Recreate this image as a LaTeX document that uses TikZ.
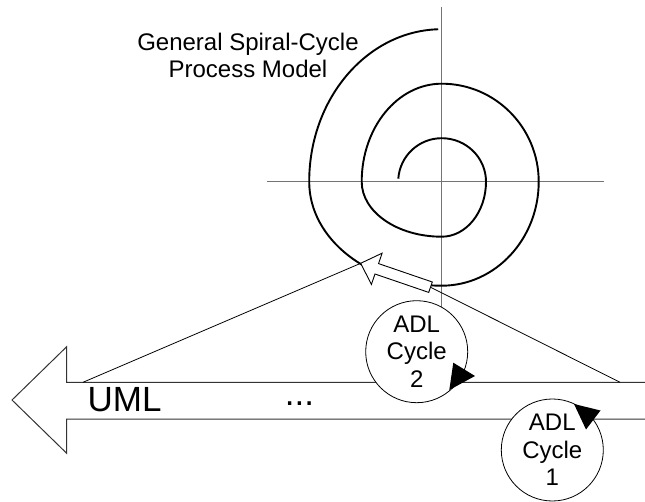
\documentclass[tikz,border=0pt]{standalone}
\usepackage{fontspec}
\setmainfont{Liberation Sans}
\usetikzlibrary{calc}
\tikzset{
  axisline/.style={draw=black!55, line width=1.4pt},
  spiralline/.style={draw=black, line width=1.9pt},
  thinline/.style={draw=black, line width=0.8pt},
  bandline/.style={draw=black!80, line width=1pt},
  hollowarrow/.style={draw=black, fill=white, line width=0.9pt, line join=miter},
  cyclebubble/.style={circle, draw=black, fill=white, line width=0.8pt,
    minimum size=102pt, inner sep=0pt, align=center,
    font=\fontsize{24}{27.5}\selectfont},
  pointer/.style={fill=black, draw=none},
  caption/.style={font=\fontsize{24}{27.7}\selectfont, align=center, inner sep=0pt},
  bigtext/.style={font=\fontsize{35}{40}\selectfont, inner sep=0pt}
}
\begin{document}
\begin{tikzpicture}[x=1pt, y=1pt]
\useasboundingbox (0,0) rectangle (645,-502);

% spiral axes
\coordinate (O) at (441.7,-181.7);
\coordinate (axtop) at (441.7,-7);
\coordinate (axbot) at (441.7,-330);
\coordinate (axleft) at (267.3,-181.7);
\coordinate (axright) at (603.5,-181.7);
\draw[axisline] (axtop) -- (axbot);
\draw[axisline] (axleft) -- (axright);

% spiral built from quarter ellipses about the axis crossing
\draw[spiralline] ($(O)+(176:43.5)$)
  arc[start angle=176, end angle=90, radius=43.5]
  arc[start angle=90, end angle=0, x radius=44.3, y radius=43.5]
  arc[start angle=0, end angle=-90, x radius=44.3, y radius=55]
  arc[start angle=-90, end angle=-180, x radius=80, y radius=55]
  arc[start angle=180, end angle=90, x radius=80, y radius=98]
  arc[start angle=90, end angle=0, x radius=97, y radius=98]
  arc[start angle=0, end angle=-90, x radius=97, y radius=104]
  arc[start angle=-90, end angle=-180, x radius=132.5, y radius=104]
  arc[start angle=180, end angle=91.5, x radius=132.5, y radius=152.5];

% broad UML arrow pointing left
\coordinate (bandL) at (83,-382.3);
\coordinate (bandR) at (620,-382.3);
\draw[bandline, line join=miter] (645,-382.3) -- (66.7,-382.3) -- (66.7,-346.7)
  -- (12,-400) -- (66.7,-453.3) -- (66.7,-419) -- (645,-419);

% hollow arrow from the band into the spiral
\coordinate (tail) at (430.5,-287.2);
\coordinate (tip) at (360.7,-263.3);
\draw[thinline] (bandL) -- (tip);
\draw[thinline] (tail) -- (bandR);
\draw[hollowarrow, shift={(tail)}, rotate=161.1]
  (0,-5.5) -- (56.8,-5.5) -- (56.8,-16.5) -- (73.8,0)
  -- (56.8,16.5) -- (56.8,5.5) -- (0,5.5) -- cycle;

% labels (base anchor sits on the last line)
\node[caption, anchor=base] (title) at (248,-78) {General Spiral-Cycle\\Process Model};
\node[bigtext, anchor=base west] (uml) at (87.5,-411) {UML};
\node[bigtext, anchor=base] (dots) at (299.5,-405.5) {...};

% ADL cycles
\node[cyclebubble] (c2) at (416.7,-351.7) {ADL\\Cycle\\2};
\node[cyclebubble] (c1) at (552.3,-450) {ADL\\Cycle\\1};
\fill[pointer] (453.3,-362.7) -- (475,-376) -- (449.3,-390) -- cycle;
\fill[pointer] (574,-404) -- (600.5,-410.5) -- (586,-429.5) -- cycle;
\end{tikzpicture}
\end{document}
